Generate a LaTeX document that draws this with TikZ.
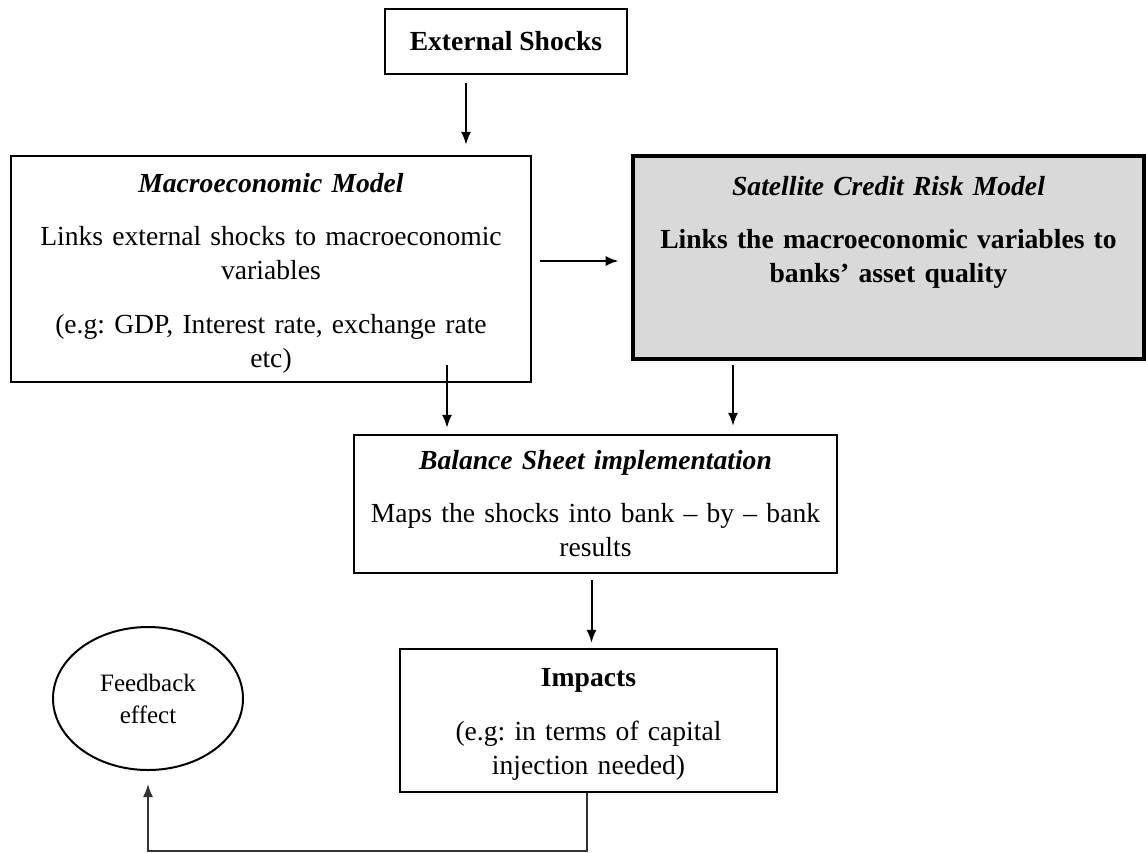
\documentclass[tikz,border=0pt]{standalone}
\usepackage{fontspec}
\setmainfont{Liberation Serif}
\usetikzlibrary{positioning,calc,shapes.geometric,arrows.meta}

\begin{document}
\frenchspacing
\begin{tikzpicture}[x=0.5pt, y=-0.5pt, >={Latex[length=6.5pt,width=5pt]}, font=\fontsize{13.8}{17}\selectfont,
  stagebox/.style={draw, line width=1.1pt, align=center, inner sep=3pt},
  satbox/.style={stagebox, line width=2.4pt, fill=black!15},
  loopnode/.style={draw, ellipse, line width=1pt, align=center, inner sep=0pt, font=\fontsize{12.5}{16}\selectfont},
  link/.style={->, line width=1pt}]
\useasboundingbox (0,0) rectangle (1146,852);
\node[stagebox, minimum width=121pt, minimum height=32.5pt] (ext) at (506,41.5) {\textbf{External Shocks}};
\node[stagebox, text width=250pt, minimum width=260pt, minimum height=113pt] (macro) at (271,269) {\rule{0pt}{14pt}\textbf{\textit{Macroeconomic Model}}\\[9.75pt]Links external shocks to macroeconomic\\variables\\[10pt](e.g: GDP, Interest rate, exchange rate\\etc)};
\node[satbox, text width=245pt, minimum width=255.5pt, minimum height=101.5pt] (sat) at (888.5,257.5) {\textbf{\textit{Satellite Credit Risk Model}}\\[9.5pt]\textbf{Links the macroeconomic variables to}\\\textbf{banks' asset quality}\\[6pt]\strut};
\node[stagebox, text width=235pt, minimum width=241.5pt, minimum height=69pt] (bal) at (595.5,504) {\textbf{\textit{Balance Sheet implementation}}\\[9.5pt]Maps the shocks into bank -- by -- bank\\results};
\node[stagebox, text width=180pt, minimum width=188.5pt, minimum height=71.5pt] (imp) at (588.5,720.5) {\rule{0pt}{13pt}\textbf{Impacts}\\[10pt](e.g: in terms of capital\\injection needed)};
\node[loopnode, minimum width=95pt, minimum height=71.5pt] (fb) at (148,698.5) {Feedback\\effect};
% connectors
\draw[link, shorten <=3.75pt, shorten >=5pt] ([xshift=-20pt]ext.south) -- ([xshift=-20pt]ext.south |- macro.north);
\draw[link, shorten <=4pt, shorten >=6pt] ([yshift=4pt]macro.east) -- ([yshift=4pt]macro.east -| sat.west);
\draw[link, shorten <=-9pt, shorten >=3pt] ([xshift=88pt]macro.south) -- ([xshift=88pt]macro.south |- bal.north);
\draw[link, shorten <=2pt, shorten >=4pt] ([xshift=-77.75pt]sat.south) -- ([xshift=-77.75pt]sat.south |- bal.north);
\draw[link, shorten <=3pt, shorten >=2.5pt] ([xshift=-2pt]bal.south) -- ([xshift=-2pt]bal.south |- imp.north);
\draw[link, line width=0.8pt, draw=black!80, shorten >=6.5pt] ([xshift=-0.75pt]imp.south) -- ++(0,-29pt) -| (fb.south);
\end{tikzpicture}
\end{document}
